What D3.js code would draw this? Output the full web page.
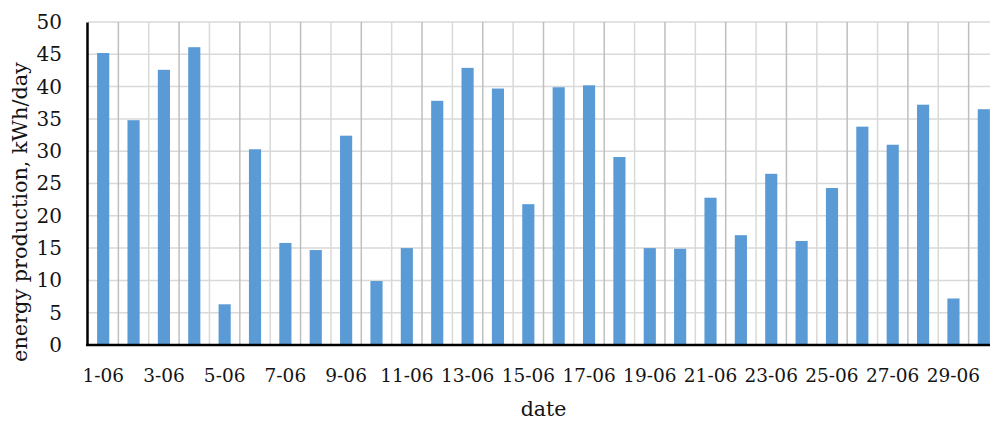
<!DOCTYPE html>
<html>
<head>
<meta charset="utf-8">
<script src="https://cdn.jsdelivr.net/npm/d3@7"></script>
<style>
  html, body { margin: 0; padding: 0; background: #fff; overflow: hidden; }
  svg { display: block; }
  text { font-family: "DejaVu Serif", serif; fill: #141414; }
</style>
</head>
<body>
<svg id="chart" width="990" height="424"></svg>
<script>
const days = ["1-06","2-06","3-06","4-06","5-06","6-06","7-06","8-06","9-06","10-06",
              "11-06","12-06","13-06","14-06","15-06","16-06","17-06","18-06","19-06","20-06",
              "21-06","22-06","23-06","24-06","25-06","26-06","27-06","28-06","29-06","30-06"];
const production = [45.2, 34.8, 42.6, 46.1, 6.3, 30.3, 15.8, 14.7, 32.4, 9.9,
                    15.0, 37.8, 42.9, 39.7, 21.8, 39.9, 40.2, 29.1, 15.0, 14.9,
                    22.8, 17.0, 26.5, 16.1, 24.3, 33.8, 31.0, 37.2, 7.2, 36.5];
const xTickLabels = ["1-06","3-06","5-06","7-06","9-06","11-06","13-06","15-06",
                     "17-06","19-06","21-06","23-06","25-06","27-06","29-06"];
const yTicks = [0, 5, 10, 15, 20, 25, 30, 35, 40, 45, 50];
const xTitle = "date";
const yTitle = "energy production, kWh/day";

const svg = d3.select("#chart");
const mLeft = 88, mRight = 999, mTop = 22, mBottom = 345;

const x = d3.scaleBand().domain(days).range([mLeft, mRight]).paddingInner(0.6).paddingOuter(0.3);
const slot = d3.scaleLinear().domain([0, days.length]).range([mLeft, mRight]);
const y = d3.scaleLinear().domain([0, 50]).range([mBottom, mTop]);

// horizontal gridlines
svg.append("g").selectAll("line").data(yTicks.filter(d => d > 0)).join("line")
  .attr("x1", mLeft).attr("x2", mRight)
  .attr("y1", d => y(d)).attr("y2", d => y(d))
  .attr("stroke", "#d9d9d9").attr("stroke-width", 1.5);

// vertical gridlines at category boundaries
const boundaries = d3.range(1, days.length);
svg.append("g").selectAll("line").data(boundaries).join("line")
  .attr("x1", d => slot(d)).attr("x2", d => slot(d))
  .attr("y1", mTop).attr("y2", mBottom)
  .attr("stroke", d => d % 2 === 1 ? "#bfbfbf" : "#d9d9d9")
  .attr("stroke-width", 1.5);

// bars
svg.append("g").selectAll("rect").data(days).join("rect")
  .attr("x", d => x(d))
  .attr("width", x.bandwidth())
  .attr("y", (d, i) => y(production[i]))
  .attr("height", (d, i) => y(0) - y(production[i]))
  .attr("fill", "#5b9bd5");

// y axis
const yAxis = svg.append("g").attr("transform", `translate(${mLeft - 1},0)`)
  .call(d3.axisLeft(y).tickValues(yTicks).tickSize(0).tickPadding(25));
yAxis.select(".domain").attr("stroke", "#000").attr("stroke-width", 2.5);
yAxis.selectAll("text").style("font-family", "DejaVu Serif").style("font-size", "20px").attr("fill", "#141414");

// x axis
const xAxis = svg.append("g").attr("transform", `translate(0,${mBottom})`)
  .call(d3.axisBottom(x).tickValues(xTickLabels).tickSize(0).tickPadding(24));
xAxis.select(".domain").remove();
xAxis.selectAll("text").style("font-family", "DejaVu Serif").style("font-size", "18.5px").attr("fill", "#141414");
svg.append("line").attr("x1", mLeft - 2).attr("x2", mRight).attr("y1", mBottom).attr("y2", mBottom)
  .attr("stroke", "#000").attr("stroke-width", 2.5);

// titles
svg.append("text").attr("x", (mLeft + mRight) / 2).attr("y", 416)
  .attr("text-anchor", "middle").style("font-size", "20.5px").text(xTitle);
svg.append("text").attr("transform", "translate(27,212) rotate(-90)")
  .attr("text-anchor", "middle").style("font-size", "20.8px").text(yTitle);
</script>
</body>
</html>
